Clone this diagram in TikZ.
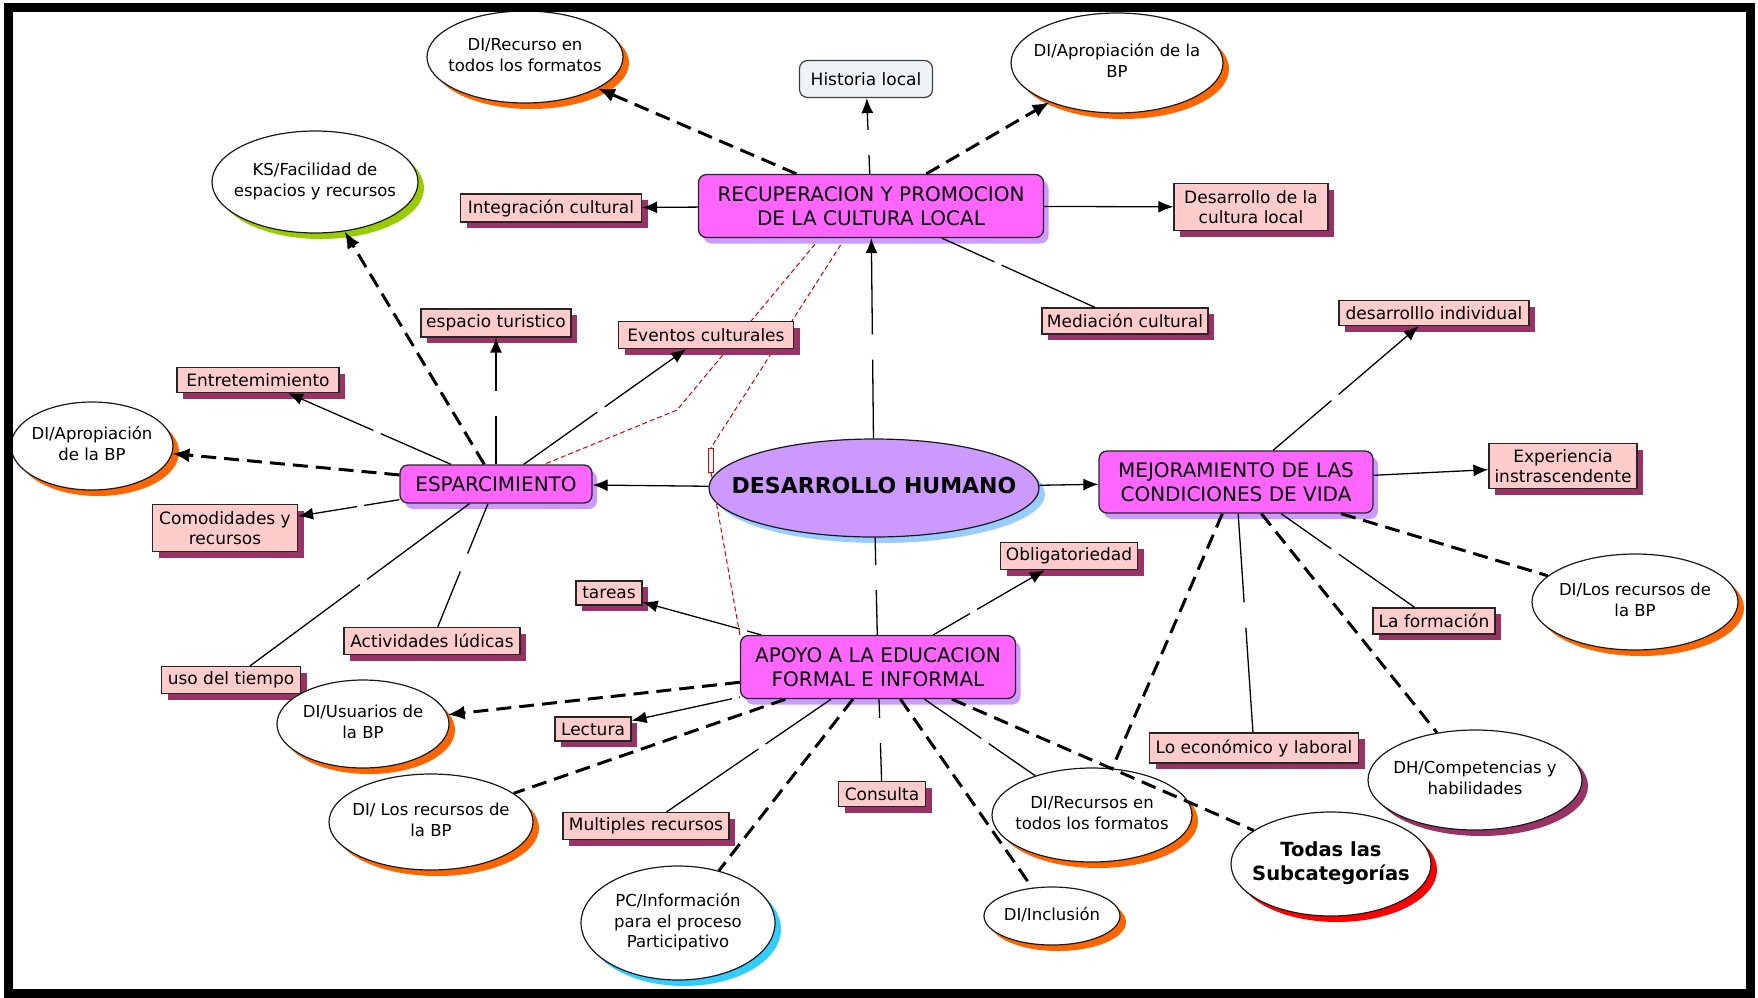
\documentclass[tikz,border=0pt]{standalone}
\usepackage{fontspec}
\setmainfont{DejaVu Sans}
\usetikzlibrary{shapes.geometric,arrows.meta,calc,shadows}
\definecolor{cmag}{RGB}{255,102,255}
\definecolor{clav}{RGB}{204,153,255}
\definecolor{csky}{RGB}{153,204,255}
\definecolor{cpink}{RGB}{255,204,204}
\definecolor{cplum}{RGB}{153,51,102}
\definecolor{corange}{RGB}{255,102,0}
\definecolor{cgreen}{RGB}{153,204,0}
\definecolor{ccyan}{RGB}{51,204,255}
\definecolor{cred}{RGB}{255,0,0}
\definecolor{cmist}{RGB}{238,243,246}
\pgfdeclarelayer{bg}
\pgfsetlayers{bg,main}
\newcommand{\elltext}[1]{\makebox[0pt]{\begin{tabular}{@{}c@{}}#1\end{tabular}}}
\tikzset{
  concept/.style={rectangle, rounded corners=8pt, draw=black!85, line width=1.3pt, fill=cmag, inner sep=0pt, align=center, font=\fontsize{20}{24}\selectfont, drop shadow={shadow xshift=5pt, shadow yshift=-6pt, fill=clav, opacity=1}},
  topic/.style={rectangle, draw=black!85, line width=1.2pt, fill=cpink, inner sep=0pt, align=center, font=\fontsize{17}{20.5}\selectfont, drop shadow={shadow xshift=6pt, shadow yshift=-6pt, fill=cplum, opacity=1}},
  idea/.style={ellipse, draw=black!90, line width=1.2pt, fill=white, inner sep=0pt, font=\fontsize{16.5}{20.5}\selectfont, drop shadow={shadow xshift=6pt, shadow yshift=-6pt, fill=#1, opacity=1}},
  connect/.style={-{Latex[length=15pt,width=12pt]}, line width=1.3pt},
  plain/.style={line width=1.3pt},
  dlink/.style={line width=3pt, dash pattern=on 15pt off 8pt},
  darrow/.style={dlink, -{Latex[length=17pt,width=14pt]}},
  redlink/.style={cred!85!black, line width=1pt, dash pattern=on 5pt off 3pt},
  gapbox/.style={rectangle, minimum width=6pt, minimum height=24pt, inner sep=0pt},
  link/.style={to path={($(\tikztostart)!#1!(\tikztotarget)$) node[gapbox] (lk) {}
    (\tikztostart) -- (lk) (lk) -- (\tikztotarget) \tikztonodes}},
  link/.default=0.5
}

\begin{document}
\begin{tikzpicture}[x=1pt,y=-1pt]
  \useasboundingbox (0,0) rectangle (1758,997);

  % the four main concepts and the centre
  \node[idea=csky, fill=clav, minimum width=330pt, minimum height=98pt, font=\fontsize{22}{26}\selectfont\bfseries] (DH) at (874,488) {\elltext{DESARROLLO HUMANO}};
  \node[concept, minimum width=345pt, minimum height=63pt] (RPC) at (871,206) {RECUPERACION Y PROMOCION\\DE LA CULTURA LOCAL};
  \node[concept, minimum width=192pt, minimum height=38pt] (ESP) at (496,484) {ESPARCIMIENTO};
  \node[concept, minimum width=274pt, minimum height=62pt] (MEJ) at (1236,482) {MEJORAMIENTO DE LAS\\CONDICIONES DE VIDA};
  \node[concept, minimum width=275pt, minimum height=63pt] (APOYO) at (878,667) {APOYO A LA EDUCACION\\FORMAL E INFORMAL};

  \node[rectangle, rounded corners=8pt, draw=black!75, line width=1.2pt, fill=cmist, font=\fontsize{17}{20.5}\selectfont, minimum width=133pt, minimum height=37pt] (Historia) at (866,79) {Historia local};

  % pink boxes
  \node[topic, minimum width=181pt, minimum height=28pt] (Integ) at (551,208) {Integración cultural};
  \node[topic, minimum width=154pt, minimum height=47pt] (DesCult) at (1251,207) {Desarrollo de la\\cultura local};
  \node[topic, minimum width=150pt, minimum height=28pt] (EspTur) at (496,323) {espacio turistico};
  \node[topic, minimum width=175pt, minimum height=27pt] (Eventos) at (706,335) {Eventos culturales};
  \node[topic, minimum width=166pt, minimum height=26pt] (Mediacion) at (1125,321) {Mediación cultural};
  \node[topic, minimum width=190pt, minimum height=25pt] (DesInd) at (1434,313) {desarrolllo individual};
  \node[topic, minimum width=162pt, minimum height=25pt] (Entre) at (258,380) {Entretemimiento};
  \node[topic, minimum width=145pt, minimum height=47pt] (Comod) at (225,528) {Comodidades y\\recursos};
  \node[topic, minimum width=176pt, minimum height=27pt] (Activ) at (432,641) {Actividades lúdicas};
  \node[topic, minimum width=139pt, minimum height=27pt] (Uso) at (231,680) {uso del tiempo};
  \node[topic, minimum width=148pt, minimum height=45pt] (Exper) at (1563,466) {Experiencia\\instrascendente};
  \node[topic, minimum width=122pt, minimum height=26pt] (Formacion) at (1434,621) {La formación};
  \node[topic, minimum width=137pt, minimum height=27pt] (Oblig) at (1069,556) {Obligatoriedad};
  \node[topic, minimum width=66pt, minimum height=24pt] (Tareas) at (609,593) {tareas};
  \node[topic, minimum width=76pt, minimum height=24pt] (Lectura) at (593,729) {Lectura};
  \node[topic, minimum width=166pt, minimum height=27pt] (Multiples) at (646,826) {Multiples recursos};
  \node[topic, minimum width=87pt, minimum height=25pt] (Consulta) at (882,794) {Consulta};
  \node[topic, minimum width=209pt, minimum height=30pt] (LoEcon) at (1254,748) {Lo económico y laboral};

  % ellipses
  \node[idea=corange, minimum width=196pt, minimum height=92pt] (RecFmt) at (525,57) {\elltext{DI/Recurso en\\todos los formatos}};
  \node[idea=corange, minimum width=212pt, minimum height=100pt] (AprTop) at (1117,63) {\elltext{DI/Apropiación de la\\BP}};
  \node[idea=cgreen, minimum width=206pt, minimum height=102pt] (KS) at (315,182) {\elltext{KS/Facilidad de\\espacios y recursos}};
  \node[idea=corange, minimum width=162pt, minimum height=88pt] (AprLeft) at (92,446) {\elltext{DI/Apropiación\\de la BP}};
  \node[idea=corange, minimum width=172pt, minimum height=88pt] (Usuarios) at (363,724) {\elltext{DI/Usuarios de\\la BP}};
  \node[idea=corange, minimum width=204pt, minimum height=96pt] (RecLeft) at (431,822) {\elltext{DI/ Los recursos de\\la BP}};
  \node[idea=ccyan, minimum width=194pt, minimum height=114pt] (PC) at (678,923) {\elltext{PC/Información\\para el proceso\\Participativo}};
  \node[idea=corange, minimum width=136pt, minimum height=58pt] (Inclusion) at (1052,916) {\elltext{DI/Inclusión}};
  \node[idea=corange, minimum width=200pt, minimum height=94pt] (RecBot) at (1092,815) {\elltext{DI/Recursos en\\todos los formatos}};
  \node[idea=corange, minimum width=206pt, minimum height=96pt] (RecRight) at (1635,602) {\elltext{DI/Los recursos de\\la BP}};
  \node[idea=cplum, minimum width=214pt, minimum height=100pt] (Compet) at (1475,780) {\elltext{DH/Competencias y\\habilidades}};
  \node[idea=cred, minimum width=200pt, minimum height=104pt, font=\fontsize{19.5}{24}\selectfont\bfseries] (Todas) at (1331,864) {\elltext{Todas las\\Subcategorías}};

  % red selection lines
  \node[draw=cred!85!black, line width=0.8pt, minimum width=5pt, minimum height=24pt, inner sep=0pt] (mark) at (711,460) {};
  \coordinate (bend) at (677,410);
  \begin{pgfonlayer}{bg}
    \draw[redlink] ($(RPC.south)+(-51,0)$) -- (bend) -- (ESP);
    \draw[redlink] ($(RPC.south)+(-26,0)$) -- (mark.north);
    \draw[redlink] (mark.south) -- (APOYO.north west);
  \end{pgfonlayer}

  \path (RPC) edge [darrow] (RecFmt);
  \path (RPC) edge [connect, link] (Historia);
  \path (RPC) edge [darrow] (AprTop);
  \path (RPC) edge [connect] (Integ);
  \path (RPC) edge [connect] (DesCult);
  \path (RPC) edge [plain, link] (Mediacion);

  \path (DH) edge [connect, link] (RPC);
  \path (DH) edge [connect] (ESP);
  \path (DH) edge [connect] (MEJ);
  \path (DH) edge [plain, link] (APOYO);

  \path (ESP) edge [darrow] (KS);
  \path (ESP) edge [connect, link] (EspTur);
  \path (ESP) edge [connect, link] (Eventos);
  \path (ESP) edge [connect, link] (Entre);
  \path (ESP) edge [darrow] (AprLeft);
  \path (ESP) edge [connect, link] (Comod);
  \path (ESP) edge [plain, link] (Activ);
  \path (ESP) edge [plain, link] (Uso);

  \path (MEJ) edge [connect, link] (DesInd);
  \path (MEJ) edge [connect] (Exper);
  \path (MEJ) edge [dlink] (RecRight);
  \path (MEJ) edge [plain, link] (Formacion);
  \path (MEJ) edge [plain, link] (LoEcon);
  \path (MEJ) edge [dlink] (Compet);
  \path (MEJ) edge [dlink] (RecBot);

  \path (APOYO) edge [connect, link] (Tareas);
  \path (APOYO) edge [connect, link] (Oblig);
  \path (APOYO) edge [darrow] (Usuarios);
  \path (APOYO) edge [connect, link] (Lectura);
  \path (APOYO) edge [dlink] (RecLeft);
  \path (APOYO) edge [plain, link] (Multiples);
  \path (APOYO) edge [dlink] (PC);
  \path (APOYO) edge [plain, link] (Consulta);
  \path (APOYO) edge [dlink] (Inclusion);
  \path (APOYO) edge [plain, link] (RecBot);
  \path (APOYO) edge [dlink] (Todas);

  % the frame
  \draw[line width=9pt] (8,7.5) rectangle (1750,993);
\end{tikzpicture}
\end{document}
